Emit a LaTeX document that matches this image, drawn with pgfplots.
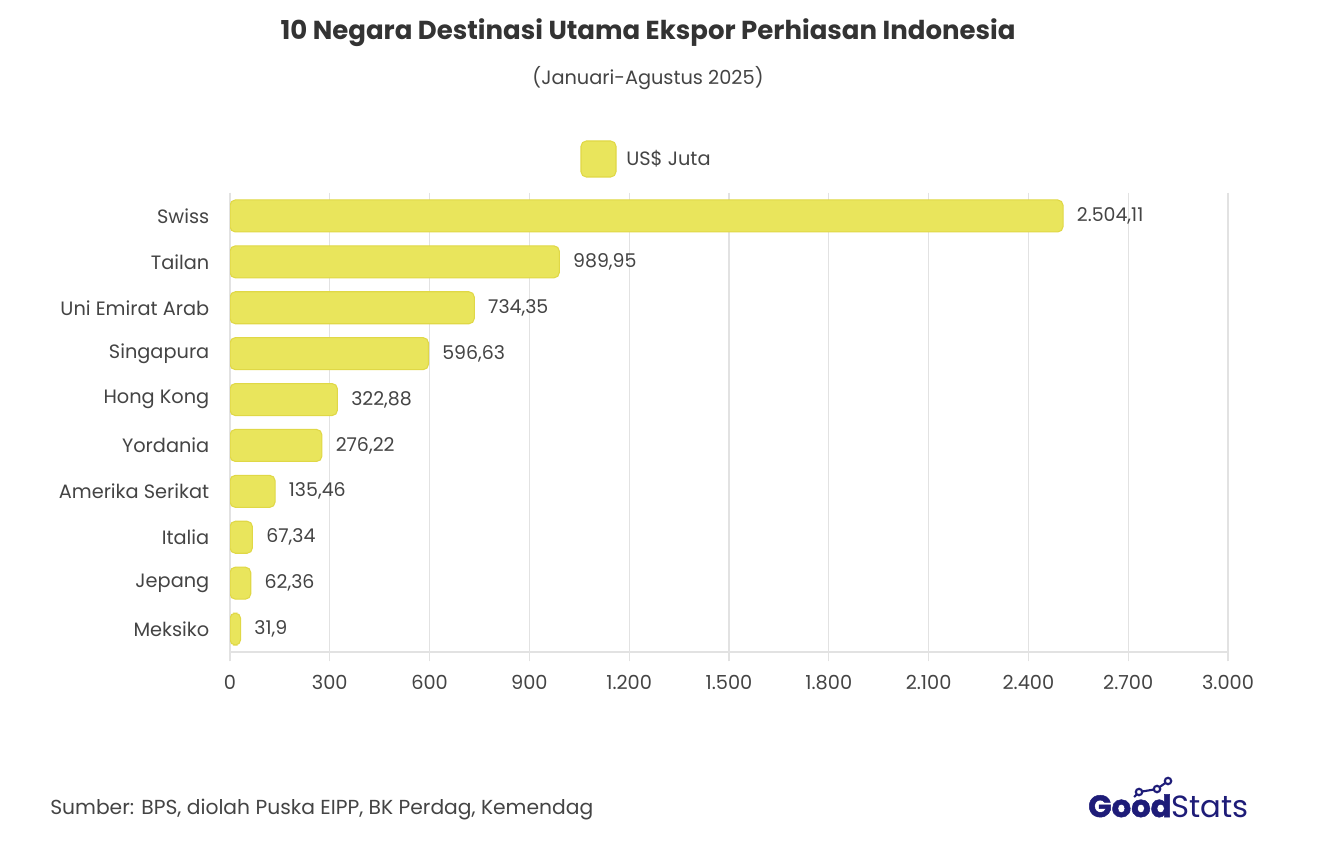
\documentclass[border=0pt]{standalone}
\usepackage{pgfplots}
\pgfplotsset{compat=1.18}
\usepackage{fontspec}
\setmainfont{Poppins}
\newfontfamily\logoheavy{Poppins}[BoldFeatures={FakeBold=1.6}]
\definecolor{barfill}{RGB}{233,229,92}
\definecolor{barline}{RGB}{224,216,70}
\definecolor{txt}{RGB}{51,51,51}
\definecolor{lbl}{RGB}{68,68,68}
\definecolor{gridc}{RGB}{226,226,226}
\definecolor{navy}{RGB}{30,28,120}

\pgfplotstableread[col sep=comma]{
idx,val,lab
0,2504.11,{2.504,11}
1,989.95,{989,95}
2,734.35,{734,35}
3,596.63,{596,63}
4,322.88,{322,88}
5,276.22,{276,22}
6,135.46,{135,46}
7,67.34,{67,34}
8,62.36,{62,36}
9,31.9,{31,9}
}\exports

\begin{document}
\begin{tikzpicture}[x=0.75pt,y=-0.75pt]
\useasboundingbox (0,0) rectangle (1338,852);
\fill[white] (0,0) rectangle (1338,852);

% title block
\node[font=\bfseries\fontsize{19.5}{22}\selectfont, text=txt] at (648,33) {10 Negara Destinasi Utama Ekspor Perhiasan Indonesia};
\node[font=\fontsize{14.5}{16}\selectfont, text=lbl] at (648,78) {(Januari-Agustus 2025)};

\begin{axis}[
  at={(172.5pt,-489pt)}, anchor=south west,
  scale only axis, width=748.5pt, height=344.25pt,
  xmin=0, xmax=3000, ymin=-0.5, ymax=9.5, y dir=reverse,
  xtick={0,300,...,3000}, ytick={0,...,9},
  yticklabels={Swiss,Tailan,Uni Emirat Arab,Singapura,Hong Kong,Yordania,Amerika Serikat,Italia,Jepang,Meksiko},
  axis x line*=bottom, axis y line*=left,
  axis line style={draw=gridc, line width=0.9pt},
  xmajorgrids, grid style={draw=gridc, line width=0.9pt},
  major tick length=7pt, tick align=outside,
  xtick style={draw=gridc, line width=0.9pt},
  ytick style={draw=none},
  ticklabel style={font=\fontsize{14.5}{16}\selectfont, text=lbl},
  xticklabel style={yshift=-7pt},
  yticklabel style={xshift=-5pt},
  /pgf/number format/.cd, 1000 sep={.}, assume math mode=true,
]
\addplot[xbar, bar width=24pt, fill=barfill, draw=barline, line width=0.8pt, rounded corners=4pt,
  point meta=explicit symbolic,
  nodes near coords,
  every node near coord/.append style={anchor=west, inner sep=0pt, xshift=10pt, text=lbl, font=\fontsize{14.2}{16}\selectfont, rounded corners=0pt}]
  table[x=val, y=idx, meta=lab] {\exports};
\end{axis}

% legend
\fill[barfill, draw=barline, line width=0.8pt, rounded corners=4pt] (581,141) rectangle (616,177);
\node[anchor=west, font=\fontsize{14.5}{16}\selectfont, text=lbl, inner sep=0pt] at (626,159) {US\$ Juta};

% source
\node[anchor=west, font=\fontsize{15.2}{17}\selectfont, text=lbl, inner sep=0pt] at (50,810) {Sumber: BPS, diolah Puska EIPP, BK Perdag, Kemendag};

% logo
\node[anchor=base west, inner sep=0pt, text=navy, font=\fontsize{23}{25}\selectfont] at (1088,817)
  {{\logoheavy\bfseries Good}{\fontseries{l}\selectfont Stats}};
\draw[navy, line width=1.6pt] (1134,797) -- (1139,792) -- (1157,789) -- (1168,781);
\foreach \p in {(1139,792),(1157,789),(1168,781)}
  \filldraw[fill=white, draw=navy, line width=1.6pt] \p circle (3.2);
\end{tikzpicture}
\end{document}
